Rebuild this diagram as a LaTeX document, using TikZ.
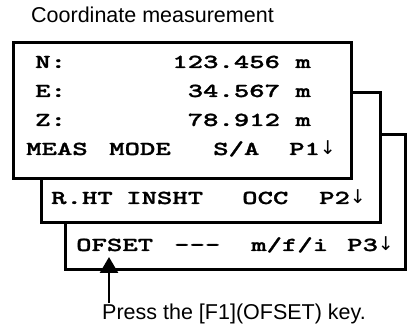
\documentclass[tikz,border=0pt]{standalone}
\usepackage{fontspec}
\setmainfont{Liberation Sans}
\newfontfamily\lcdfont{lmmonolt10-bold}[Extension=.otf,FakeStretch=1.48,FakeBold=1.3]
\newfontfamily\symfont{DejaVu Sans}
\newcommand{\dnarrow}{{\symfont\fontsize{19}{22}\selectfont ↓}}
\usetikzlibrary{arrows.meta}
\begin{document}
\begin{tikzpicture}[x=1pt,y=-1pt,
  panel/.style={draw=black,fill=white,line width=3pt},
  lcd/.style={inner sep=0pt,font=\lcdfont\fontsize{19.8}{22}\selectfont},
  caption/.style={inner sep=0pt,font=\fontsize{21.5}{24}\selectfont},
  pointer/.style={line width=2.5pt,-{Triangle[width=18pt,length=16pt]}}]
\useasboundingbox (0,0) rectangle (407,328);
\node[caption,anchor=base west] (title) at (31,23) {Coordinate measurement};
% panels, back to front
\draw[panel] (65,135) rectangle (405,270);
\draw[panel] (41,93) rectangle (380,223);
\draw[panel] (13,43) rectangle (351,179);
% page 1
\node[lcd,anchor=base west] (nlab) at (35,68) {N:};
\node[lcd,anchor=base east] (nval) at (311,68) {123.456 m};
\node[lcd,anchor=base west] (elab) at (35,97) {E:};
\node[lcd,anchor=base east] (eval) at (311,97) {34.567 m};
\node[lcd,anchor=base west] (zlab) at (35,126) {Z:};
\node[lcd,anchor=base east] (zval) at (311,126) {78.912 m};
\node[lcd,anchor=base west] (meas) at (26,155) {MEAS};
\node[lcd,anchor=base west] (mode) at (109,155) {MODE};
\node[lcd,anchor=base west] (sa) at (213,155) {S/A};
\node[lcd,anchor=base west] (pone) at (289,155) {P1\dnarrow};
% page 2
\node[lcd,anchor=base west] (rht) at (51,204) {R.HT};
\node[lcd,anchor=base west] (insht) at (126,204) {INSHT};
\node[lcd,anchor=base west] (occ) at (242,204) {OCC};
\node[lcd,anchor=base west] (ptwo) at (319,204) {P2\dnarrow};
% page 3
\node[lcd,anchor=base west] (ofset) at (76,251) {OFSET};
\node[lcd,anchor=base west] (dash3) at (174,251) {---};
\node[lcd,anchor=base west] (mfi) at (251,251) {m/f/i};
\node[lcd,anchor=base west] (pthree) at (347,251) {P3\dnarrow};
% pointer
\node[caption,anchor=base west] (press) at (102,320) {Press the [F1](OFSET) key.};
\coordinate (start) at (109,303);
\coordinate (tip) at (109,257);
\draw[pointer] (start) -- (tip);
\end{tikzpicture}
\end{document}
